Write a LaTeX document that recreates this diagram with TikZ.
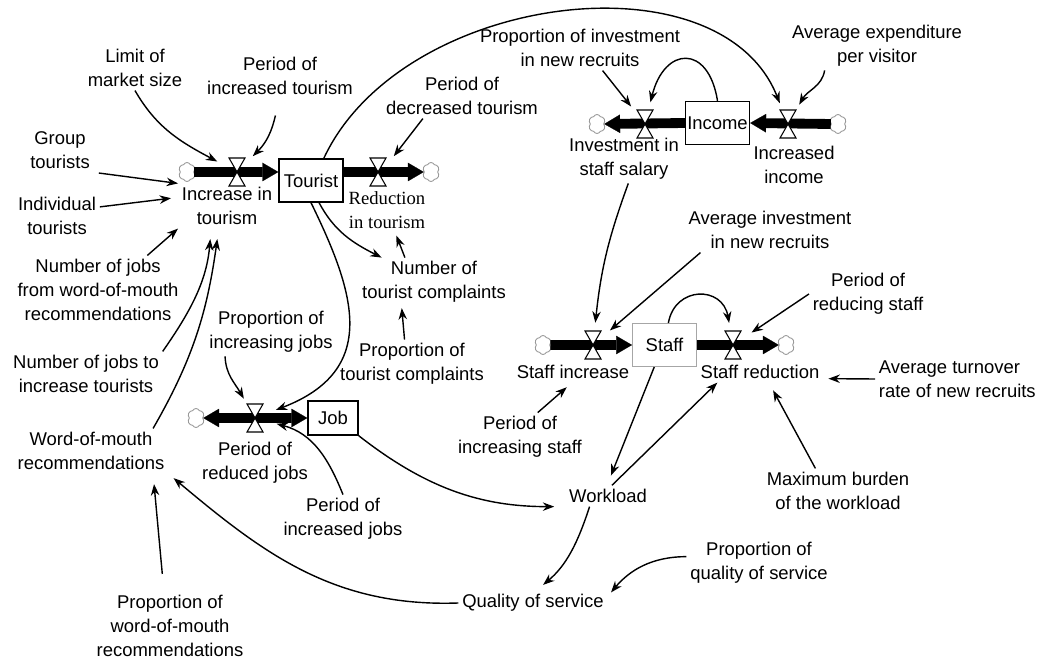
\documentclass[tikz,border=0pt]{standalone}
\usepackage{fontspec}
\setmainfont{Liberation Sans}
\newfontfamily\timesfont{Liberation Serif}
\usetikzlibrary{arrows.meta,shapes.symbols}

\tikzset{
  var/.style={align=center, inner sep=2pt, font=\fontsize{10.5}{13.6}\selectfont},
  stock/.style={draw, line width=0.8pt, inner sep=0pt, minimum width=1.28cm,
    minimum height=0.86cm, font=\fontsize{10.5}{13.6}\selectfont},
  valve/.style={circle, inner sep=0pt, minimum size=0.88cm},
  bowtie/.style={draw, fill=white, line width=0.6pt},
  source/.style={cloud, cloud puffs=6, cloud puff arc=130, draw=gray!80, fill=white,
    line width=0.5pt, inner sep=0pt, minimum width=0.34cm, minimum height=0.38cm},
  flowtip/.tip={Triangle[length=9pt,width=10.5pt,line width=0.1pt]},
  pipe/.style={line width=5.6pt, -{flowtip}},
  link/.style={line width=0.8pt, -{Stealth[length=6.5pt,width=4.8pt]}}
}

\begin{document}
\begin{tikzpicture}[x=0.02cm, y=-0.02cm]
  \useasboundingbox (0,0) rectangle (1041,661);

  % stocks
  \node[stock] (tourist) at (311,180.5) {Tourist};
  \node[stock] (income) at (717.5,123) {Income};
  \node[stock, minimum width=1cm, minimum height=0.68cm] (job) at (333,418) {Job};
  \node[stock, draw=gray!70, line width=0.6pt] (staff) at (664.5,345) {Staff};

  % clouds
  \node[source] (ci) at (187,172) {};
  \node[source] (cr) at (431,172) {};
  \node[source] (cj) at (196,418) {};
  \node[source] (cs1) at (543,345) {};
  \node[source] (cs2) at (786,345) {};
  \node[source] (cinv) at (597,124) {};
  \node[source] (cinc) at (838,124) {};

  % flows
  \draw[pipe] (ci.east) -- (tourist.west |- ci);
  \draw[pipe] (tourist.east |- cr) -- (cr.west);
  \draw[pipe, {flowtip}-{flowtip}] (cj.east) -- (job.west |- cj);
  \draw[pipe] (cs1.east) -- (staff.west);
  \draw[pipe] (staff.east) -- (cs2.west);
  \draw[pipe] (cinc.west) -- (income.east);
  \draw[pipe] (income.west) -- (cinv.east);

  % valves
  \node[valve] (vi) at (237,172) {};
  \node[valve] (vr) at (378,172) {};
  \node[valve] (vj) at (255,418) {};
  \node[valve] (vs1) at (593,345) {};
  \node[valve] (vs2) at (733,345) {};
  \node[valve] (vinv) at (645,124) {};
  \node[valve] (vinc) at (788,124) {};
  \foreach \v in {vi,vr,vj,vs1,vs2,vinv,vinc}
    \draw[bowtie] (\v) +(-8,-14) -- +(8,-14) -- +(-8,14) -- +(8,14) -- cycle;

  % flow names
  \node[var] (inc) at (227,206) {Increase in\\tourism};
  \node[var, font=\timesfont\fontsize{10.6}{13.6}\selectfont] (red) at (387,210) {Reduction\\in tourism};
  \node[var] (prj) at (255,463) {Period of\\reduced jobs};
  \node[var] (sinc) at (573,372) {Staff increase};
  \node[var] (sred) at (760,372) {Staff reduction};
  \node[var] (inv) at (624,159) {Investment in\\staff salary};
  \node[var] (incr) at (794,165) {Increased\\income};

  % auxiliaries
  \node[var] (limit) at (135,68) {Limit of\\market size};
  \node[var] (pit) at (280,76) {Period of\\increased tourism};
  \node[var] (pdt) at (462,96) {Period of\\decreased tourism};
  \node[var] (group) at (60,150) {Group\\tourists};
  \node[var] (indiv) at (57,216) {Individual\\tourists};
  \node[var] (njw) at (98,290) {Number of jobs\\from word-of-mouth\\recommendations};
  \node[var] (nji) at (86,374) {Number of jobs to\\increase tourists};
  \node[var] (wom) at (91,451) {Word-of-mouth\\recommendations};
  \node[var] (pwom) at (170,626) {Proportion of\\word-of-mouth\\recommendations};
  \node[var] (pij) at (271,332) {Proportion of\\increasing jobs};
  \node[var] (ptc) at (412,364) {Proportion of\\tourist complaints};
  \node[var] (ntc) at (434,282) {Number of\\tourist complaints};
  \node[var] (pij2) at (343,519) {Period of\\increased jobs};
  \node[var] (qos) at (533,603) {Quality of service};
  \node[var] (work) at (608,496) {Workload};
  \node[var] (pqos) at (759,563) {Proportion of\\quality of service};
  \node[var] (maxb) at (838,491) {Maximum burden\\of the workload};
  \node[var, align=left, anchor=west] (turn) at (875,379) {Average turnover\\rate of new recruits};
  \node[var] (pis) at (520,437) {Period of\\increasing staff};
  \node[var] (avi) at (770,230) {Average investment\\in new recruits};
  \node[var] (prs) at (868,294) {Period of\\reducing staff};
  \node[var] (pinv) at (580,48) {Proportion of investment\\in new recruits};
  \node[var] (aexp) at (877,46) {Average expenditure\\per visitor};

  % links
  \draw[link] (limit.south) to[out=-60,in=152] (vi);
  \draw[link, shorten <=10pt] (pit.south) to[out=-105,in=45] (vi);
  \draw[link, shorten <=3pt] (group.south east) -- (inc.north west);
  \draw[link, shorten >=4pt] (indiv.12) -- (inc.170);
  \draw[link] (njw.35) -- (inc.south west);
  \draw[link, shorten >=6pt] (nji.north east) to[out=55,in=-95] (inc.235);
  \draw[link, shorten >=6pt] (wom.20) to[out=60,in=-98] (inc.250);
  \draw[link, shorten <=10pt, shorten >=6pt] (pwom.100) -- (wom.-20);
  \draw[link, shorten >=4pt] (qos.west) to[out=182,in=-40] (wom.south east);
  \draw[link] (tourist.-70) to[out=-62,in=153] (ntc.155);
  \draw[link, shorten >=1pt] (ptc.107) -- (ntc.-143);
  \draw[link, shorten >=2pt] (ntc.140) -- (red.-70);
  \draw[link] (pdt.-150) -- (vr.45);
  \draw[link] (tourist.south) .. controls +(44,90) and +(125,-48) .. (vj);
  \draw[link] (pij.-152) to[out=-88,in=120] (vj);
  \draw[link] (pij2.north) to[out=112,in=-15] (vj);
  \draw[link, shorten >=8pt] (job.south east) to[out=-38,in=180] (work.-165);
  \draw[link, shorten >=6pt] (staff.-115) -- (work.95);
  \draw[link] (work.70) -- (sred.-166);
  \draw[link, shorten >=5pt] (work.-150) to[out=-108,in=40] (qos.75);
  \draw[link, shorten >=3pt] (pqos.175) to[out=180,in=50] (qos.5);
  \draw[link, shorten >=5pt] (maxb.135) -- (sred.-50);
  \draw[link, shorten >=3pt] (turn.west) -- (sred.-6);
  \draw[link, shorten >=4pt] (pis.54) -- (sinc.-95);
  \draw[link] (inv.-80) to[out=-110,in=84] (vs1);
  \draw[link] (avi.-162) -- (vs1);
  \draw[link] (staff.80) to[out=80,in=100,looseness=1.6] (vs2);
  \draw[link] (prs.west) -- (vs2);
  \draw[link] (income.north) to[out=99,in=76,looseness=2.2] (vinv);
  \draw[link] (pinv.-45) -- (vinv);
  \draw[link] (aexp.-155) to[out=-100,in=60] (vinc);
  \draw[link] (tourist.60) .. controls +(77,-165) and +(-68,-172) .. (vinc);
\end{tikzpicture}
\end{document}
